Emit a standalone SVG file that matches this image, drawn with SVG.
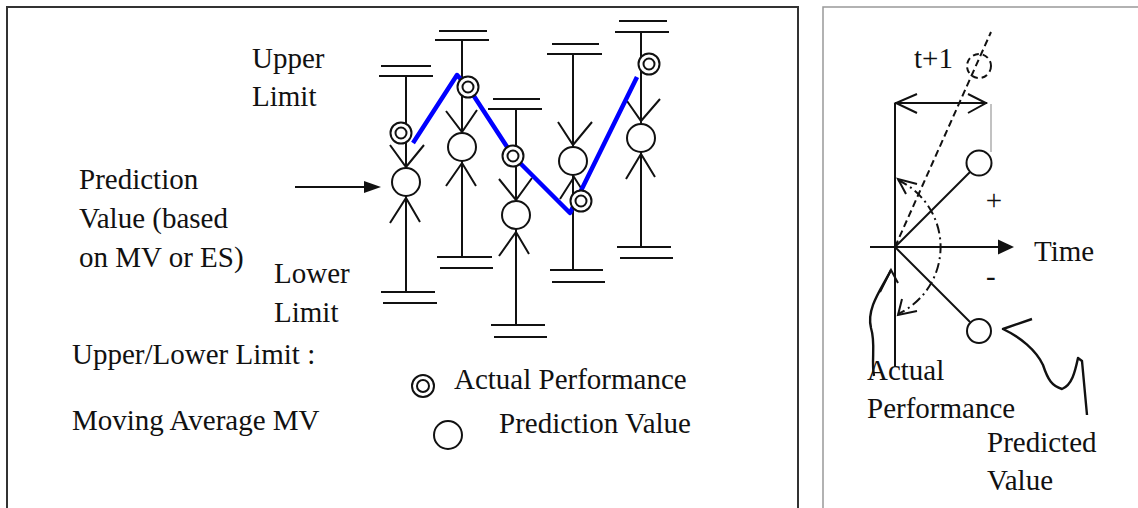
<svg xmlns="http://www.w3.org/2000/svg" width="1138" height="508" viewBox="0 0 1138 508">
<defs>
<style>
.t{font-family:"Liberation Serif","Times New Roman",serif;font-size:29px;fill:#111}
.k{stroke:#111;stroke-width:2;fill:none}
.c{fill:#fff;stroke:#111;stroke-width:2}
.ci{fill:none;stroke:#111;stroke-width:2}
.blue{stroke:#0000ff;stroke-width:4.5;fill:none;stroke-linejoin:round}
</style>
</defs>
<rect width="1138" height="508" fill="#fff"/>
<rect id="panel-left" x="7" y="7" width="791" height="520" fill="none" stroke="#333" stroke-width="2"/>
<rect id="panel-right" x="823" y="7" width="330" height="520" fill="none" stroke="#999" stroke-width="1.5"/>

<g id="col1" class="k">
<line x1="381" y1="66" x2="431" y2="66"/><line x1="379" y1="76" x2="433" y2="76"/>
<line x1="406" y1="76" x2="406" y2="292"/>
<polyline points="390,145 406,167 424,145"/>
<polyline points="390,223 406,198 420,222"/>
<line x1="381" y1="292" x2="435" y2="292"/><line x1="383" y1="303" x2="437" y2="303"/>
</g>
<g id="col2" class="k">
<line x1="439" y1="31" x2="487" y2="31"/><line x1="435" y1="40" x2="489" y2="40"/>
<line x1="462" y1="40" x2="462" y2="257"/>
<polyline points="446,111 462,132 477,110"/>
<polyline points="446,186 462,163 476,186"/>
<line x1="437" y1="257" x2="492" y2="257"/><line x1="440" y1="268" x2="493" y2="268"/>
</g>
<g id="col3" class="k">
<line x1="493" y1="99" x2="540" y2="99"/><line x1="488" y1="109" x2="542" y2="109"/>
<line x1="516" y1="109" x2="516" y2="325"/>
<polyline points="499,179 516,200 532,178"/>
<polyline points="499,256 516,232 529,254"/>
<line x1="491" y1="325" x2="545" y2="325"/><line x1="494" y1="337" x2="547" y2="337"/>
</g>
<g id="col4" class="k">
<line x1="552" y1="44" x2="599" y2="44"/><line x1="547" y1="54" x2="602" y2="54"/>
<line x1="573" y1="54" x2="573" y2="270"/>
<polyline points="558,122 573,145 592,122"/>
<polyline points="560,199 574,177 588,199"/>
<line x1="550" y1="270" x2="603" y2="270"/><line x1="552" y1="282" x2="605" y2="282"/>
</g>
<g id="col5" class="k">
<line x1="619" y1="21" x2="667" y2="21"/><line x1="615" y1="32" x2="669" y2="32"/>
<line x1="641" y1="32" x2="641" y2="247"/>
<polyline points="627,101 641,121 660,99"/>
<polyline points="626,179 641,154 655,177"/>
<line x1="617" y1="247" x2="671" y2="247"/><line x1="620" y1="258" x2="673" y2="258"/>
</g>

<g id="connectors">
<polyline class="blue" points="413,143 457,75 468,87 513,156 570,213 637,77"/>
<line class="k" x1="295" y1="187" x2="365" y2="187"/>
<polygon points="381,187 364,181 364,193" fill="#111"/>
</g>

<g id="predictions">
<circle class="c" cx="406" cy="182" r="14"/>
<circle class="c" cx="462" cy="147" r="14"/>
<circle class="c" cx="516" cy="215" r="14"/>
<circle class="c" cx="573" cy="161" r="14"/>
<circle class="c" cx="641" cy="138" r="14"/>
</g>
<g id="actuals">
<circle class="c" cx="401" cy="133" r="10.5"/><circle class="ci" cx="401" cy="133" r="5.5"/>
<circle class="c" cx="468" cy="87" r="10.5"/><circle class="ci" cx="468" cy="87" r="5.5"/>
<circle class="c" cx="513" cy="156" r="10.5"/><circle class="ci" cx="513" cy="156" r="5.5"/>
<circle class="c" cx="581" cy="201" r="10.5"/><circle class="ci" cx="581" cy="201" r="5.5"/>
<circle class="c" cx="649" cy="64" r="10.5"/><circle class="ci" cx="649" cy="64" r="5.5"/>
</g>

<g id="labels-left">
<text class="t" x="252" y="68">Upper</text>
<text class="t" x="252" y="106">Limit</text>
<text class="t" x="79" y="189">Prediction</text>
<text class="t" x="79" y="228">Value (based</text>
<text class="t" x="79" y="267">on MV or ES)</text>
<text class="t" x="274" y="283">Lower</text>
<text class="t" x="274" y="322">Limit</text>
<text class="t" x="72" y="364">Upper/Lower Limit :</text>
<text class="t" x="72" y="430">Moving Average MV</text>
</g>
<g id="legend">
<circle class="c" cx="423" cy="386" r="11"/><circle class="ci" cx="423" cy="386" r="6"/>
<text class="t" x="454" y="389">Actual Performance</text>
<circle class="c" cx="448" cy="435" r="14"/>
<text class="t" x="499" y="433">Prediction Value</text>
</g>

<g id="time-chart">
<line class="k" x1="895" y1="103" x2="895" y2="367"/>
<line class="k" x1="895" y1="103" x2="987" y2="103"/>
<polyline class="k" points="917,94 896,103 917,113"/>
<polyline class="k" points="968,94 986,103 968,113"/>
<line x1="991" y1="104" x2="991" y2="152" stroke="#999" stroke-width="1.2"/>
<line class="k" x1="870" y1="247" x2="1000" y2="247"/>
<polygon points="1014,247 998,239.5 998,254.5" fill="#111"/>
<line x1="895" y1="247" x2="991" y2="32" stroke="#111" stroke-width="2" stroke-dasharray="7 4"/>
<circle cx="979" cy="66" r="12" fill="none" stroke="#111" stroke-width="2" stroke-dasharray="6 4"/>
<line class="k" x1="895" y1="247" x2="970" y2="172"/>
<line class="k" x1="895" y1="247" x2="970" y2="322"/>
<circle class="c" cx="979" cy="163" r="12.5"/>
<circle class="c" cx="979" cy="331" r="12"/>
<path d="M898 180 A74 74 0 0 1 898 314" fill="none" stroke="#111" stroke-width="2" stroke-dasharray="10 4 2 4"/>
<polyline class="k" points="917,184 898,179 906,194"/>
<polyline class="k" points="902,299 898,315 917,311"/>
<path d="M891 270 C882 288 866 308 871 328 C876 344 871 360 874 376" fill="none" stroke="#111" stroke-width="2.4"/>
<polyline class="k" points="880,292 891,270 898,283"/>
<path d="M1032 319 L1003 329 C1020 337 1036 350 1043 365 C1048 380 1052 386 1062 389 C1072 385 1075 372 1078 358 L1082 361 L1087 415" fill="none" stroke="#111" stroke-width="2.4" stroke-linejoin="round"/>
<text class="t" x="914" y="68">t+1</text>
<text class="t" x="1034" y="261">Time</text>
<text class="t" x="994" y="210" text-anchor="middle" font-size="24">+</text>
<text class="t" x="986" y="286">-</text>
<text class="t" x="867" y="380">Actual</text>
<text class="t" x="867" y="418">Performance</text>
<text class="t" x="987" y="452">Predicted</text>
<text class="t" x="987" y="490">Value</text>
</g>
</svg>
